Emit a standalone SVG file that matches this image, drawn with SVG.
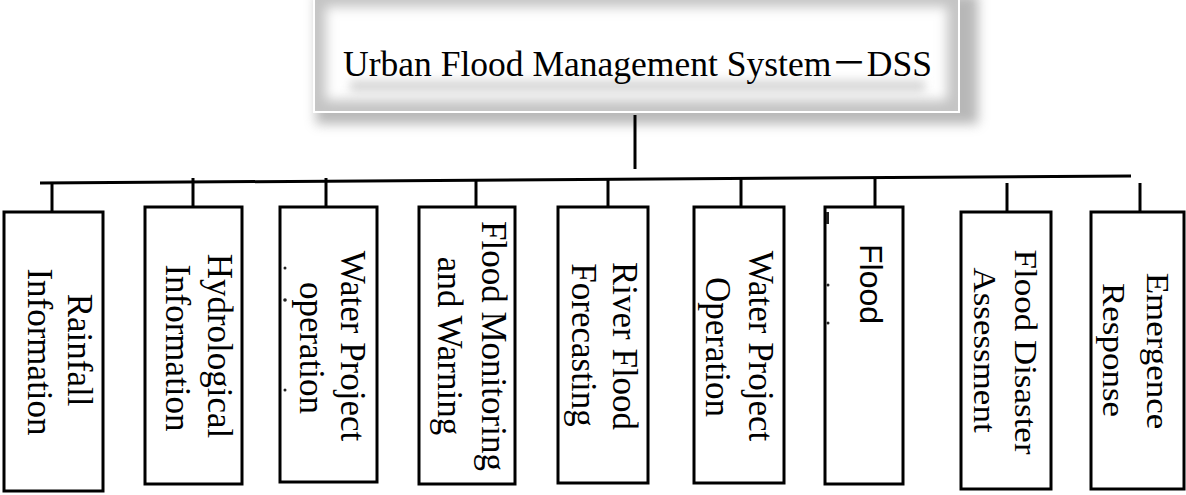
<svg xmlns="http://www.w3.org/2000/svg" width="1186" height="495" viewBox="0 0 1186 495">
<style>
.box{fill:#fff;stroke:#000;stroke-width:3}
.ln{stroke:#000;stroke-width:3;fill:none}
.t{font-family:"Liberation Serif","Times New Roman",serif;font-size:35px;fill:#000;text-anchor:middle}
.ts{font-family:"Liberation Sans",Arial,sans-serif;font-size:32px;fill:#000;text-anchor:middle}
.frag{fill:#222}
</style>
<defs>
<filter id="blur6" x="-10%" y="-30%" width="120%" height="160%"><feGaussianBlur stdDeviation="6"/></filter>
<filter id="blur4" x="-10%" y="-100%" width="120%" height="300%"><feGaussianBlur stdDeviation="5"/></filter>
<clipPath id="inner"><rect x="315" y="0" width="643" height="111"/></clipPath>
</defs>
<g id="root">
<rect x="316" y="-6" width="662" height="130" fill="#9a9a9a" opacity="0.7" filter="url(#blur6)"/>
<rect x="313" y="-5" width="647" height="118" fill="#fff"/>
<g clip-path="url(#inner)">
<rect x="315" y="-4" width="643" height="115" fill="none" stroke="#c4c4c4" stroke-width="22" filter="url(#blur6)"/>
</g>
<rect x="350" y="80" width="575" height="12" fill="#b0b0b0" opacity="0.5" filter="url(#blur4)"/>
<text x="343" y="76" font-family="Liberation Serif, 'Noto Sans CJK SC', serif" font-size="36" fill="#000" textLength="589" lengthAdjust="spacingAndGlyphs">Urban Flood Management System－DSS</text>
</g>
<g id="connectors">
<line class="ln" x1="635" y1="115" x2="635" y2="169"/>
<line class="ln" x1="40" y1="183" x2="1131" y2="176"/>
<line class="ln" x1="52" y1="183" x2="52" y2="212"/>
<line class="ln" x1="193" y1="178" x2="193" y2="207"/>
<line class="ln" x1="326" y1="178" x2="326" y2="207"/>
<line class="ln" x1="476" y1="180" x2="476" y2="207"/>
<line class="ln" x1="608" y1="179" x2="608" y2="207"/>
<line class="ln" x1="741" y1="178" x2="741" y2="207"/>
<line class="ln" x1="875" y1="177" x2="875" y2="207"/>
<line class="ln" x1="1007" y1="183" x2="1007" y2="212"/>
<line class="ln" x1="1140" y1="183" x2="1140" y2="212"/>
</g>
<g id="n1">
<rect class="box" x="4" y="212" width="99" height="279"/>
<text class="t" transform="translate(68,350) rotate(90)">Rainfall</text>
<text class="t" transform="translate(28,352) rotate(90)">Information</text>
</g>
<g id="n2">
<rect class="box" x="145" y="207" width="97" height="277"/>
<text class="t" transform="translate(208,346) rotate(90)">Hydrological</text>
<text class="t" transform="translate(166,348) rotate(90)">Information</text>
</g>
<g id="n3">
<rect class="box" x="280" y="207" width="97" height="275"/>
<text class="t" transform="translate(341,346) rotate(90)">Water Project</text>
<text class="t" transform="translate(300,348) rotate(90)">operation</text>
<circle class="frag" cx="285" cy="268" r="1.5"/>
<circle class="frag" cx="285" cy="300" r="1.8"/>
<circle class="frag" cx="285" cy="390" r="1.5"/>
</g>
<g id="n4">
<rect class="box" x="419" y="207" width="96" height="277"/>
<text class="t" transform="translate(482,346) rotate(90)">Flood Monitoring</text>
<text class="t" transform="translate(438,346) rotate(90)">and Warning</text>
</g>
<g id="n5">
<rect class="box" x="558" y="207" width="90" height="276"/>
<text class="t" transform="translate(613,346) rotate(90)">River Flood</text>
<text class="t" transform="translate(572,345) rotate(90)">Forecasting</text>
</g>
<g id="n6">
<rect class="box" x="694" y="207" width="90" height="276"/>
<text class="t" transform="translate(749,346) rotate(90)">Water Project</text>
<text class="t" transform="translate(706,347) rotate(90)">Operation</text>
</g>
<g id="n7">
<rect class="box" x="825" y="207" width="78" height="277"/>
<text class="ts" transform="translate(860,284) rotate(90)">Flood</text>
<rect class="frag" x="826" y="212" width="3" height="12"/>
<circle class="frag" cx="828" cy="285" r="1.5"/>
<circle class="frag" cx="828" cy="323" r="1.5"/>
</g>
<g id="n8">
<rect class="box" x="961" y="212" width="90" height="277"/>
<text class="t" transform="translate(1015,352) rotate(90) scale(1,0.88)">Flood Disaster</text>
<text class="t" transform="translate(974,350) rotate(90) scale(1,0.88)">Assessment</text>
</g>
<g id="n9">
<rect class="box" x="1091" y="212" width="93" height="277"/>
<text class="t" transform="translate(1147,351) rotate(90) scale(1,0.88)">Emergence</text>
<text class="t" transform="translate(1103,350) rotate(90) scale(1,0.88)">Response</text>
</g>
</svg>
